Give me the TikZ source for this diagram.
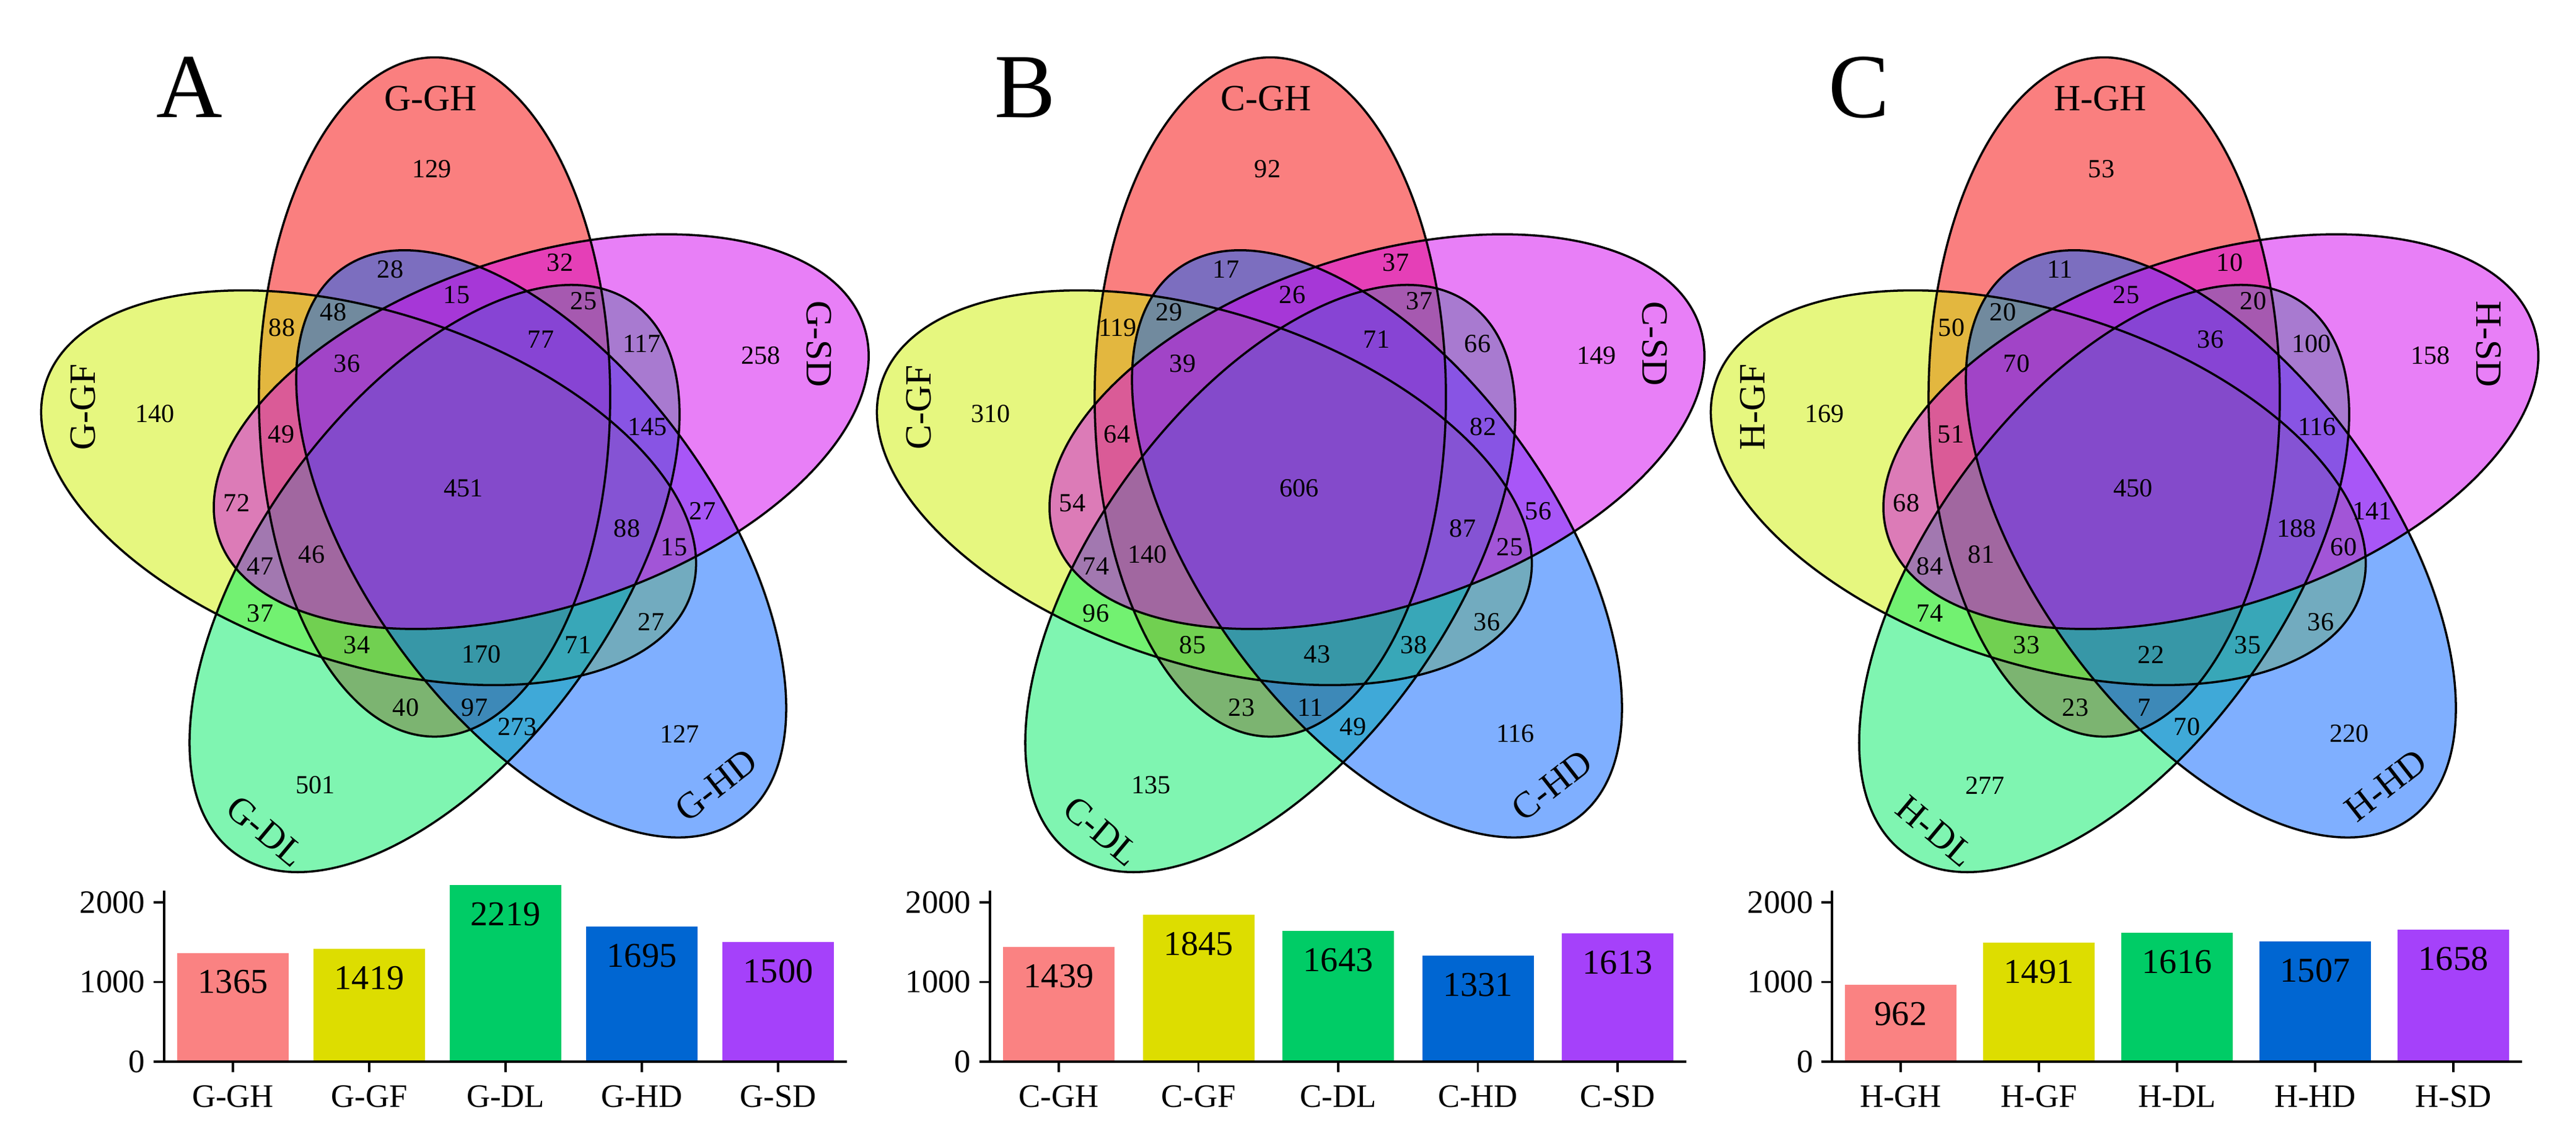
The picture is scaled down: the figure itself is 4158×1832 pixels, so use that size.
\documentclass[tikz,border=0pt]{standalone}
\usepackage{fontspec}
\setmainfont{Liberation Serif}
\definecolor{vGH}{RGB}{245,0,0}
\definecolor{vGF}{RGB}{205,240,0}
\definecolor{vDL}{RGB}{0,235,100}
\definecolor{vHD}{RGB}{0,95,255}
\definecolor{vSD}{RGB}{210,0,240}
\definecolor{bGH}{RGB}{250,130,130}
\definecolor{bGF}{RGB}{221,221,0}
\definecolor{bDL}{RGB}{0,204,102}
\definecolor{bHD}{RGB}{0,102,210}
\definecolor{bSD}{RGB}{165,65,250}
\begin{document}
\begin{tikzpicture}[x=0.01cm,y=-0.01cm,
    num/.style={font=\fontsize{12}{12}\selectfont},
    setname/.style={font=\fontsize{17}{17}\selectfont},
    panel/.style={font=\fontsize{42}{42}\selectfont},
    barval/.style={font=\fontsize{16}{16}\selectfont},
    axlab/.style={font=\fontsize{15}{15}\selectfont},
    axis/.style={line width=1.1pt}]
\useasboundingbox (0,0) rectangle (4158,1832);
% venn panels
\foreach \dx/\p/\L in {0/G/A,1349/C/B,2695/H/C}{
  \scope[shift={(\dx,0)}]
    \scope[shift={(749,787)}]
      \foreach \c [count=\k from 0] in {vGH,vGF,vDL,vHD,vSD}
        \fill[\c,fill opacity=.5,shift={(-108-72*\k:154)},rotate=72*\k]
          (0,0) ellipse [x radius=283.5,y radius=548];
      \foreach \k in {0,...,4}
        \draw[line width=1pt,shift={(-108-72*\k:154)},rotate=72*\k]
          (0,0) ellipse [x radius=283.5,y radius=548];
    \endscope
    \node[panel] (\L) at (306,141) {\L};
    \node[setname] (\p-GH) at (695,159) {\p-GH};
    \node[setname,rotate=90] (\p-GF) at (134,657) {\p-GF};
    \node[setname,rotate=-40] (\p-DL) at (429,1341) {\p-DL};
    \node[setname,rotate=38] (\p-HD) at (1156,1267) {\p-HD};
    \node[setname,rotate=-90] (\p-SD) at (1322,555) {\p-SD};
  \endscope
}
% region counts
\foreach \x/\y/\a/\b/\c [count=\j] in {697/273/129/92/53, 630/435/28/17/11,
    904/424/32/37/10, 737/476/15/26/25, 942/486/25/37/20, 538/504/48/29/20,
    455/529/88/119/50, 873/548/77/71/36, 1036/555/117/66/100, 560/587/36/39/70,
    1228/574/258/149/158, 250/668/140/310/169, 1045/689/145/82/116,
    454/701/49/64/51, 748/788/451/606/450, 382/812/72/54/68, 1134/825/27/56/141,
    1012/853/88/87/188, 1088/883/15/25/60, 503/895/46/140/81, 420/914/47/74/84,
    420/990/37/96/74, 1051/1004/27/36/36, 576/1041/34/85/33, 777/1056/170/43/22,
    933/1041/71/38/35, 655/1142/40/23/23, 766/1142/97/11/7, 835/1173/273/49/70,
    1097/1184/127/116/220, 509/1267/501/135/277}{
  \node[num] (G\j) at (\x,\y) {\a};
  \node[num] (C\j) at (\x+1349,\y) {\b};
  \node[num] (H\j) at (\x+2695,\y) {\c};
}
% bar charts
\foreach \xa/\sp/\p/\va/\vb/\vc/\vd/\ve in {265/220/G/1365/1419/2219/1695/1500,
    1598/225.5/C/1439/1845/1643/1331/1613, 2957/223/H/962/1491/1616/1507/1658}{
  \scope[shift={(\xa,1713)}]
    \foreach \v/\s/\c [count=\k from 0] in {\va/GH/bGH,\vb/GF/bGF,\vc/DL/bDL,\vd/HD/bHD,\ve/SD/bSD}{
      \fill[\c] (21+\sp*\k,0) rectangle (201+\sp*\k,-0.1285*\v);
      \node[barval] (v\p\k) at (111+\sp*\k,-0.1285*\v+47) {\v};
      \draw[axis] (111+\sp*\k,0) -- (111+\sp*\k,17);
      \node[axlab] (x\p\k) at (111+\sp*\k,56) {\p-\s};
    }
    \draw[axis] (0,-276) -- (0,0) (-17,0) -- (222+4*\sp,0);
    \foreach \t in {0,1000,2000}
      \draw[axis] (0,-0.1285*\t) -- (-17,-0.1285*\t) node[axlab,left] (t\p\t) {\t};
  \endscope
}
\end{tikzpicture}
\end{document}
